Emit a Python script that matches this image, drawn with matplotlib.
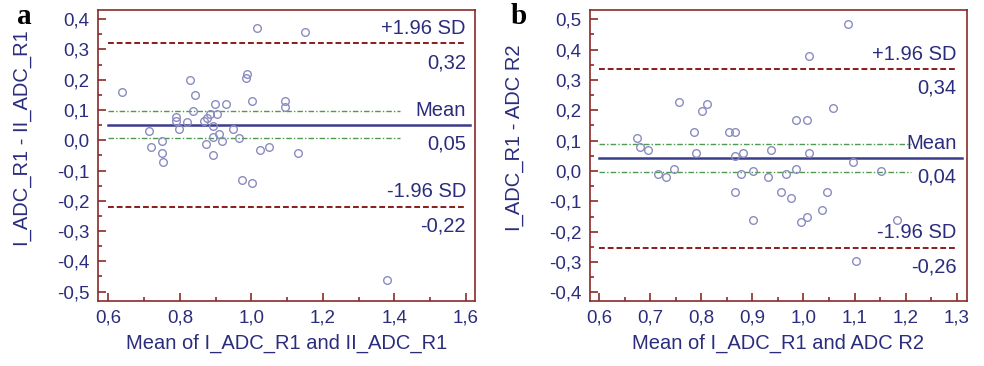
import numpy as np
import matplotlib
matplotlib.use("Agg")
import matplotlib.pyplot as plt
from matplotlib.ticker import MultipleLocator, FuncFormatter

plt.rcParams['font.family'] = ['Liberation Sans', 'DejaVu Sans']

# panel a: mean vs difference, I_ADC_R1 / II_ADC_R1
mean_a = [0.639, 0.713, 0.719, 0.750, 0.750, 0.753, 0.788, 0.788, 0.798, 0.819,
          0.828, 0.838, 0.843, 0.868, 0.875, 0.884, 0.873, 0.893, 0.893, 0.893,
          0.898, 0.904, 0.910, 0.918, 0.928, 0.948, 0.964, 0.974, 0.984, 0.989,
          1.001, 1.003, 1.015, 1.025, 1.050, 1.095, 1.095, 1.130, 1.150, 1.380]
diff_a = [0.159, 0.029, -0.021, -0.002, -0.043, -0.072, 0.078, 0.065, 0.036, 0.059,
          0.199, 0.098, 0.149, 0.062, 0.074, 0.087, -0.011, 0.048, 0.009, -0.050,
          0.119, 0.087, 0.019, -0.002, 0.119, 0.036, 0.008, -0.132, 0.207, 0.218,
          -0.141, 0.128, 0.369, -0.032, -0.021, 0.128, 0.109, -0.043, 0.357, -0.463]
stats_a = dict(mean=0.05, upper=0.32, lower=-0.22, ci=(0.007, 0.096))
labels_a = dict(upper="0,32", mean="0,05", lower="-0,22")

# panel b: I_ADC_R1 / ADC R2
mean_b = [0.675, 0.680, 0.696, 0.716, 0.731, 0.746, 0.756, 0.786, 0.790, 0.801,
          0.811, 0.854, 0.866, 0.866, 0.882, 0.877, 0.866, 0.901, 0.901, 0.931,
          0.936, 0.956, 0.966, 0.976, 0.986, 0.986, 0.996, 1.006, 1.006, 1.010,
          1.011, 1.036, 1.047, 1.057, 1.087, 1.097, 1.102, 1.152, 1.183]
diff_b = [0.109, 0.079, 0.070, -0.010, -0.020, 0.008, 0.228, 0.130, 0.059, 0.198,
          0.219, 0.130, 0.130, 0.049, 0.059, -0.010, -0.070, 0.001, -0.160, -0.020,
          0.070, -0.070, -0.010, -0.089, 0.008, 0.169, -0.169, -0.150, 0.169, 0.377,
          0.059, -0.130, -0.070, 0.209, 0.485, 0.029, -0.297, 0.001, -0.160]
stats_b = dict(mean=0.042, upper=0.335, lower=-0.252, ci=(-0.004, 0.090))
labels_b = dict(upper="0,34", mean="0,04", lower="-0,26")

NAVY = '#2b2d7c'
FRAME = '#8b2a2a'
RED = '#8b1c1c'
GREEN = '#4f9a4f'
DOT = '#8a8cc0'

comma = FuncFormatter(lambda v, p: ('%.1f' % v).replace('.', ','))


def bland_altman(ax, x, y, st, lab, x0, x1, ci_end, xlim, ylim, xstep, xminor, ystep,
                 xlabel, ylabel):
    ax.plot(x, y, 'o', mfc='none', mec=DOT, ms=5.5, mew=1.0, zorder=3)
    ax.plot([x0, x1], [st['upper']] * 2, ls=(0, (3, 1.5)), color=RED, lw=1.4)
    ax.plot([x0, x1], [st['lower']] * 2, ls=(0, (3, 1.5)), color=RED, lw=1.4)
    ax.plot([x0, x1 + 0.01], [st['mean']] * 2, color='#3a3c8c', lw=1.8)
    for c in st['ci']:
        ax.plot([x0, ci_end], [c, c], ls=(0, (4, 1.5, 1, 1.5)), color=GREEN, lw=1.0)

    tx = x1
    kw = dict(xycoords='data', textcoords='offset points', ha='right', color=NAVY, fontsize=14.5)
    ax.annotate("+1.96 SD", (tx, st['upper']), xytext=(0, 4), va='bottom', **kw)
    ax.annotate(lab['upper'], (tx, st['upper']), xytext=(0, -7), va='top', **kw)
    ax.annotate("Mean", (tx, st['mean']), xytext=(0, 4), va='bottom', **kw)
    ax.annotate(lab['mean'], (tx, st['mean']), xytext=(0, -7), va='top', **kw)
    ax.annotate("-1.96 SD", (tx, st['lower']), xytext=(0, 4), va='bottom', **kw)
    ax.annotate(lab['lower'], (tx, st['lower']), xytext=(0, -7), va='top', **kw)

    ax.set_xlim(*xlim)
    ax.set_ylim(*ylim)
    ax.xaxis.set_major_locator(MultipleLocator(xstep))
    ax.xaxis.set_minor_locator(MultipleLocator(xminor))
    ax.yaxis.set_major_locator(MultipleLocator(ystep))
    ax.yaxis.set_minor_locator(MultipleLocator(ystep / 2))
    ax.xaxis.set_major_formatter(comma)
    ax.yaxis.set_major_formatter(comma)
    ax.tick_params(which='both', direction='in', color=FRAME, labelcolor=NAVY,
                   labelsize=13.5, width=1.2)
    ax.tick_params(which='major', length=6, pad=6)
    ax.tick_params(which='minor', length=3)
    for s in ax.spines.values():
        s.set_color(FRAME)
        s.set_linewidth(1.2)
    ax.set_xlabel(xlabel, color=NAVY, fontsize=14.5, labelpad=5)
    ax.set_ylabel(ylabel, color=NAVY, fontsize=14.5, labelpad=2)
    ax.yaxis.set_label_coords(-0.174, 0.56)


fig = plt.figure(figsize=(9.84, 3.66), dpi=100)
ax1 = fig.add_axes([0.0996, 0.1776, 0.383, 0.795])
ax2 = fig.add_axes([0.5996, 0.1776, 0.383, 0.795])

bland_altman(ax1, mean_a, diff_a, stats_a, labels_a, 0.6, 1.6, 1.415,
             (0.571, 1.625), (-0.531, 0.43), 0.2, 0.1, 0.1,
             "Mean of I_ADC_R1 and II_ADC_R1", "I_ADC_R1 - II_ADC_R1")
bland_altman(ax2, mean_b, diff_b, stats_b, labels_b, 0.6, 1.3, 1.21,
             (0.582, 1.32), (-0.428, 0.53), 0.1, 0.05, 0.1,
             "Mean of I_ADC_R1 and ADC R2", "I_ADC_R1 - ADC R2")

fig.text(0.017, 0.935, "a", fontsize=21, fontweight='bold', family='Liberation Serif')
fig.text(0.519, 0.935, "b", fontsize=21, fontweight='bold', family='Liberation Serif')

fig.savefig("out.png", dpi=100)
